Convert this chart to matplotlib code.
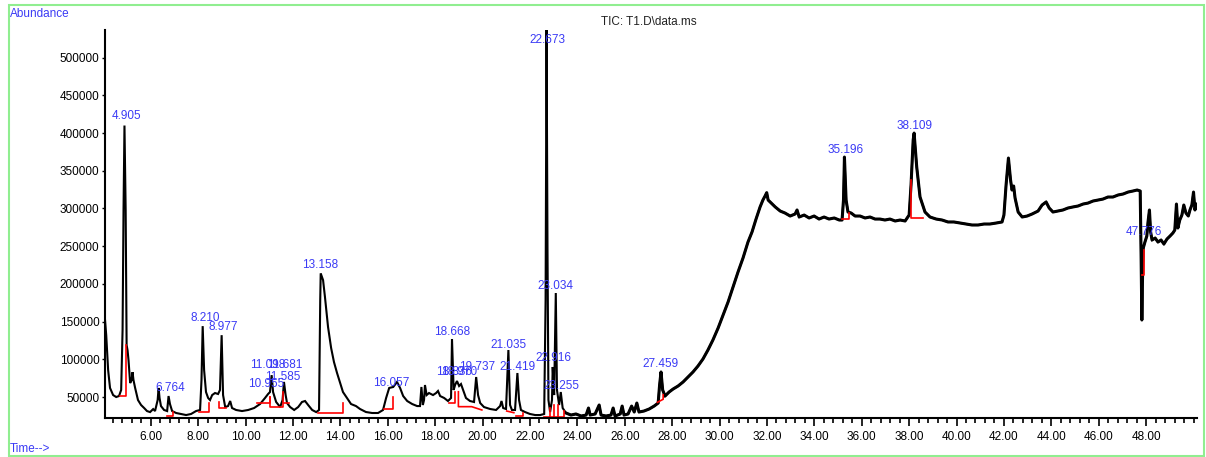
import matplotlib
matplotlib.use("Agg")
import matplotlib.pyplot as plt
from matplotlib.patches import Rectangle
from matplotlib.ticker import MultipleLocator, FormatStrFormatter
import numpy as np

# TIC trace: retention time (min) / abundance
time_min = [
    4.07, 4.12, 4.20, 4.28, 4.41, 4.54, 4.66, 4.75, 4.81, 4.85, 4.89, 4.94, 4.98, 5.02, 5.06,
    5.13, 5.19, 5.23, 5.27, 5.34, 5.46, 5.59, 5.72, 5.84, 5.97, 6.10, 6.18, 6.29, 6.33, 6.37,
    6.43, 6.56, 6.69, 6.75, 6.81, 6.90, 7.07, 7.28, 7.49, 7.70, 7.91, 8.08, 8.14, 8.19, 8.25,
    8.33, 8.42, 8.50, 8.59, 8.71, 8.84, 8.92, 8.99, 9.05, 9.14, 9.26, 9.35, 9.43, 9.60, 9.85,
    10.11, 10.36, 10.61, 10.82, 10.95, 11.03, 11.10, 11.16, 11.29, 11.46, 11.56, 11.62, 11.69, 11.75, 11.88,
    12.05, 12.22, 12.38, 12.51, 12.64, 12.81, 12.98, 13.10, 13.15, 13.17, 13.27, 13.35, 13.48, 13.61, 13.73,
    13.86, 13.99, 14.11, 14.28, 14.45, 14.66, 14.83, 15.08, 15.34, 15.59, 15.80, 15.93, 16.06, 16.23, 16.39,
    16.52, 16.65, 16.82, 17.03, 17.24, 17.36, 17.42, 17.48, 17.53, 17.57, 17.64, 17.74, 17.91, 18.04, 18.12,
    18.21, 18.38, 18.54, 18.67, 18.71, 18.78, 18.84, 18.92, 19.01, 19.09, 19.18, 19.30, 19.47, 19.64, 19.73,
    19.81, 19.90, 20.06, 20.32, 20.57, 20.74, 20.80, 20.87, 20.99, 21.09, 21.16, 21.24, 21.37, 21.47, 21.54,
    21.62, 21.79, 22.00, 22.22, 22.43, 22.60, 22.66, 22.70, 22.74, 22.78, 22.85, 22.93, 22.96, 23.02, 23.09,
    23.14, 23.23, 23.30, 23.38, 23.52, 23.73, 23.94, 24.16, 24.37, 24.47, 24.54, 24.75, 24.92, 25.00, 25.21,
    25.42, 25.51, 25.59, 25.81, 25.89, 25.97, 26.14, 26.29, 26.40, 26.51, 26.60, 26.81, 27.03, 27.24, 27.41,
    27.47, 27.53, 27.60, 27.70, 27.87, 28.04, 28.25, 28.46, 28.67, 28.88, 29.09, 29.30, 29.51, 29.72, 29.94,
    30.15, 30.36, 30.57, 30.78, 30.99, 31.20, 31.37, 31.54, 31.71, 31.83, 31.92, 31.99, 32.05, 32.18, 32.35,
    32.56, 32.76, 32.98, 33.19, 33.27, 33.36, 33.57, 33.78, 33.99, 34.20, 34.41, 34.62, 34.84, 35.05, 35.17,
    35.23, 35.27, 35.34, 35.42, 35.55, 35.72, 35.93, 36.14, 36.35, 36.56, 36.77, 36.98, 37.19, 37.41, 37.62,
    37.83, 38.00, 38.08, 38.17, 38.21, 38.32, 38.46, 38.67, 38.88, 39.14, 39.39, 39.64, 39.89, 40.15, 40.40,
    40.65, 40.91, 41.16, 41.41, 41.67, 41.92, 42.00, 42.09, 42.19, 42.28, 42.34, 42.41, 42.47, 42.60, 42.77,
    42.98, 43.19, 43.44, 43.61, 43.78, 43.91, 44.07, 44.28, 44.49, 44.70, 44.91, 45.13, 45.34, 45.55, 45.76,
    45.97, 46.18, 46.39, 46.60, 46.82, 47.03, 47.24, 47.45, 47.62, 47.75, 47.79, 47.82, 47.85, 47.88, 47.95,
    48.03, 48.08, 48.14, 48.19, 48.25, 48.38, 48.50, 48.63, 48.75, 48.88, 49.01, 49.13, 49.21, 49.28, 49.34,
    49.42, 49.51, 49.59, 49.68, 49.78, 49.85, 49.93, 50.00, 50.06, 50.12,
]
abundance = [
    152000, 132000, 85800, 62000, 52600, 50000, 51300, 59300, 139000, 298000, 410000, 298000, 119000, 112000, 99000,
    68500, 72500, 83000, 72500, 62000, 46000, 39400, 35400, 31400, 30000, 34000, 31400, 46000, 62000, 48700,
    38000, 32800, 31400, 51300, 40700, 31400, 28800, 27500, 26100, 27500, 31400, 32800, 72500, 144000, 85800,
    56600, 48700, 46000, 52600, 55300, 54000, 59300, 132000, 52600, 36700, 38000, 44700, 35400, 32800, 31400,
    32800, 35400, 40700, 48700, 54000, 56600, 79000, 56600, 43400, 36700, 46000, 70000, 52600, 42000, 36700,
    32800, 36700, 43400, 44700, 39400, 32800, 30000, 32800, 178600, 214000, 205000, 182600, 142800, 115000, 96400,
    81800, 68600, 56600, 48700, 40700, 38000, 34100, 30100, 28800, 28800, 32800, 48700, 62000, 63300, 69900,
    62000, 51300, 44700, 40700, 38000, 38000, 63300, 39400, 46000, 65900, 52600, 55300, 52600, 55300, 58000,
    51300, 48700, 44700, 48700, 126900, 59300, 65900, 71200, 64600, 67200, 59300, 48700, 44700, 43400, 76500,
    52600, 42000, 36700, 34100, 32800, 38000, 44700, 35400, 34100, 112300, 39400, 32800, 32800, 81800, 46000,
    32800, 30100, 27500, 26100, 26100, 27500, 178600, 536700, 245000, 46000, 30100, 46000, 89800, 52600, 187900,
    59300, 39400, 56600, 35400, 28800, 26100, 27500, 24800, 26100, 35400, 26100, 27500, 39400, 26100, 24800,
    26100, 35400, 24800, 27500, 38000, 26100, 27500, 38000, 30100, 42000, 30100, 31400, 34100, 38000, 42000,
    65900, 83200, 59300, 51300, 56600, 60600, 64600, 69900, 76500, 83200, 91100, 100400, 112300, 125600, 141500,
    158700, 176000, 195900, 215800, 234300, 255500, 268800, 286000, 302000, 311200, 316500, 321000, 311200, 307200, 302000,
    296600, 294000, 290000, 292700, 298000, 288700, 291300, 287400, 290000, 286000, 288700, 286000, 287400, 284700, 284700,
    311200, 368200, 311200, 295300, 294000, 290000, 290000, 287400, 288700, 286000, 286000, 284700, 286000, 283400, 284700,
    283400, 291300, 331100, 390800, 400000, 355000, 315200, 295300, 288700, 286000, 284700, 282100, 282100, 280700, 279400,
    278100, 278100, 279400, 279400, 280700, 282100, 291300, 331100, 366900, 337700, 324500, 329800, 313900, 295300, 288700,
    290000, 292700, 296600, 304600, 308600, 300600, 295300, 296600, 298000, 300600, 302000, 303300, 305900, 307200, 309900,
    311200, 312500, 315200, 315200, 317900, 319200, 321800, 323200, 324500, 323200, 231700, 152100, 211800, 247600, 255500,
    263500, 282100, 298000, 268800, 258200, 260800, 255500, 258200, 252900, 259500, 263500, 267500, 271400, 305900, 274100,
    284700, 291300, 304600, 294000, 290000, 298000, 304600, 321800, 298000, 305900,
]

# integration baselines (red ticks) from the data system
baselines = [
    [(4.70, 52000), (4.96, 52000), (4.96, 119000)],
    [(6.67, 25000), (6.93, 25000), (6.93, 30500)],
    [(8.05, 30500), (8.47, 30500), (8.47, 42000)],
    [(8.89, 44000), (8.89, 36000), (9.18, 36000)],
    [(10.50, 41500), (11.05, 41500), (11.05, 50000)],
    [(11.05, 50000), (11.05, 36500), (11.60, 36500), (11.60, 57000)],
    [(11.62, 42000), (11.85, 42000)],
    [(13.07, 29200), (14.10, 29200), (14.10, 41600)],
    [(15.84, 33700), (16.24, 33700), (16.24, 50400)],
    [(18.58, 41600), (18.84, 41600), (18.84, 57000)],
    [(18.98, 57000), (18.98, 37200), (19.54, 37200), (19.97, 32800)],
    [(21.02, 31400), (21.32, 29200)],
    [(21.40, 24800), (21.72, 24800), (21.72, 29200)],
    [(22.60, 24000), (22.85, 24000), (22.85, 36000)],
    [(22.85, 24000), (23.00, 24000), (23.00, 40000)],
    [(23.00, 24000), (23.20, 24000), (23.20, 40000)],
    [(23.20, 24000), (23.42, 24000), (23.42, 32000)],
    [(27.38, 43000), (27.62, 47000), (27.62, 53000)],
    [(35.18, 286000), (35.48, 286000), (35.48, 294000)],
    [(38.09, 337700), (38.09, 287000), (38.57, 287000)],
    [(47.82, 211800), (47.92, 211800), (47.92, 245000)],
]

# retention time labels as printed
peak_labels = ["4.905", "6.764", "8.210", "8.977", "10.955", "11.098", "11.681", "11.585",
               "13.158", "16.057", "18.668", "18.836", "18.970", "19.737", "21.035", "21.419",
               "22.673", "23.034", "22.916", "23.255", "27.459", "35.196", "38.109", "47.776"]

y_ticks = list(range(50000, 500001, 50000))
x_ticks = list(range(6, 49, 2))

plt.rcParams['font.family'] = ['Liberation Sans', 'DejaVu Sans']

fig = plt.figure(figsize=(12.06, 4.57), dpi=100)
ax = fig.add_axes([0.0871, 0.0853, 0.9055, 0.8491])

t_arr = np.array(time_min)
a_arr = np.array(abundance)
ax.plot(t_arr, a_arr, color='black', lw=1.5, solid_joinstyle='miter')
# detector noise makes the late part of the trace look like a thick band
noisy = t_arr >= 23.5
ax.plot(t_arr[noisy], a_arr[noisy], color='black', lw=2.2)

for b in baselines:
    bx, by = zip(*b)
    ax.plot(bx, by, color='red', lw=1.2)

# label anchors (text centres) in data units
label_t = [4.96, 6.81, 8.29, 9.05, 10.87, 10.95, 11.67, 11.58,
           13.14, 16.14, 18.71, 18.80, 19.01, 19.77, 21.08, 21.46,
           22.72, 23.06, 22.97, 23.31, 27.49, 35.30, 38.21, 47.92]
label_a = [422600, 61900, 154800, 142900, 67200, 92400, 92400, 76500,
           225000, 68600, 136200, 83200, 83200, 89800, 119000, 89800,
           523400, 197200, 101700, 64600, 93800, 377500, 409300, 268800]
for s, t, a in zip(peak_labels, label_t, label_a):
    ax.text(t, a, s, color='#3a3af5', fontsize=8.5, ha='center', va='center')

ax.set_xlim(4.07, 50.15)
ax.set_ylim(22150, 536700)
ax.set_yticks(y_ticks)
ax.yaxis.set_major_formatter(FormatStrFormatter('%d'))
ax.set_xticks(x_ticks)
ax.xaxis.set_major_formatter(FormatStrFormatter('%.2f'))
ax.xaxis.set_minor_locator(MultipleLocator(0.4))

for side in ['top', 'right']:
    ax.spines[side].set_visible(False)
for side in ['left', 'bottom']:
    ax.spines[side].set_linewidth(1.5)

ax.tick_params(axis='x', which='major', length=5.5, width=1.2, pad=4, labelsize=8.5)
ax.tick_params(axis='x', which='minor', length=3.5, width=1.2)
ax.tick_params(axis='y', which='major', length=2.5, width=1.0, pad=1.5, labelsize=8.5)

fig.text(10 / 1206, 1 - 14 / 457, "Abundance", color='#3a3af5', fontsize=8.5, ha='left', va='center')
fig.text(10 / 1206, 1 - 449 / 457, "Time-->", color='#3a3af5', fontsize=8.5, ha='left', va='center')
fig.text(649 / 1206, 1 - 22 / 457, "TIC: T1.D\\data.ms", color='#222222', fontsize=8.5, ha='center', va='center')

fig.patches.append(Rectangle((9 / 1206, 1 / 457), 1195 / 1206, 451 / 457, transform=fig.transFigure,
                             fill=False, edgecolor='#90ee90', lw=1.5))

fig.savefig('out.png', dpi=100)
